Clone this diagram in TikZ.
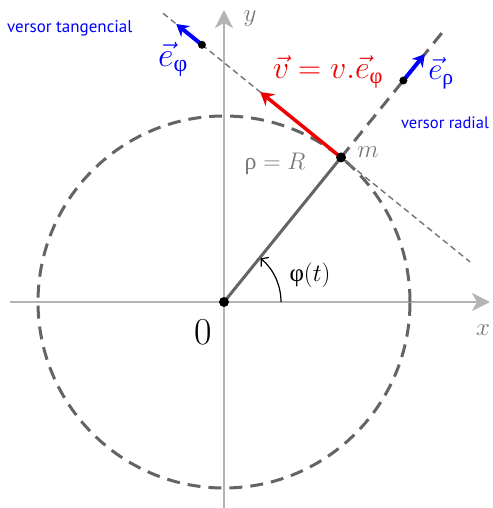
\RequirePackage{fix-cm}
\documentclass[tikz,border=0pt]{standalone}
\usepackage{amsmath}
\usepackage{fontspec}
\usepackage{tikz}
\usetikzlibrary{arrows.meta,calc}
\newfontfamily\grk{Liberation Serif}
\newfontfamily\labsans{PT Sans}
\newcommand{\gphi}{\text{\grk φ}}
\newcommand{\grho}{\text{\grk ρ}}
\newcommand{\fs}[1]{\fontsize{#1}{#1}\selectfont}
\definecolor{vblue}{RGB}{0,0,255}
\definecolor{vred}{RGB}{240,0,0}
\definecolor{axgray}{RGB}{180,180,180}
\definecolor{lngray}{RGB}{100,100,100}
\definecolor{txgray}{RGB}{120,120,120}
\tikzset{
  axis/.style={draw=axgray, line width=2.5pt, -{Stealth[length=18pt,width=18pt,inset=5pt]}},
  circdash/.style={draw=lngray, line width=3pt, dash pattern=on 13pt off 8pt},
  tangdash/.style={draw=black!55, line width=1.4pt, dash pattern=on 6pt off 4pt},
  radline/.style={draw=lngray, line width=3pt},
  dot/.style={circle, fill=black, inner sep=0pt, minimum size=#1},
  dot/.default=10pt,
  versor/.style={vblue, line width=4pt, -{Stealth[length=12pt,width=14pt]}},
  vel/.style={vred, line width=3.5pt, -{Stealth[length=13pt,width=15pt]}},
  lab/.style={inner sep=0pt, text=txgray},
}

\begin{document}
\begin{tikzpicture}[x=1pt,y=1pt]
\useasboundingbox (-224,-206) rectangle (268,302);
% points
\coordinate (O) at (0,0);
\coordinate (Xl) at (-214,0);
\coordinate (Xr) at (266,0);
\coordinate (Yb) at (0,-206);
\coordinate (Yt) at (0,292);
\coordinate (M) at (51:186);
\coordinate (Rend) at (51:349);
\coordinate (Ta) at ($(M)+(141:229)$);
\coordinate (Tb) at ($(M)+(-39:166)$);
\coordinate (Vtip) at ($(M)+(141:104)$);
\coordinate (Ephi) at ($(M)+(141:179)$);
\coordinate (Ephitip) at ($(M)+(141:212)$);
\coordinate (Erho) at (51:285);
\coordinate (Erhotip) at (51:319);
\coordinate (A0) at (57,0);
% axes and circle
\draw[axis] (Xl) -- (Xr);
\draw[axis] (Yb) -- (Yt);
\draw[circdash] (O) circle[radius=186];
\draw[circdash] (M) -- (Rend);
\draw[tangdash] (Ta) -- (Tb);
\draw[radline] (O) -- (M);
\draw[line width=1.2pt, -{Straight Barb[length=5pt,width=12pt]}] (A0) arc[start angle=0, end angle=50, radius=57];
% vectors
\draw[vel] (M) -- (Vtip);
\draw[versor] (Ephi) -- (Ephitip);
\draw[versor] (Erho) -- (Erhotip);
\node[dot] (o) at (O) {};
\node[dot] (m) at (M) {};
\node[dot=8pt] (ephi) at (Ephi) {};
\node[dot=8pt] (erho) at (Erho) {};
% labels
\node[lab, font=\fs{25}] (ylab) at (26,283) {$y$};
\node[lab, font=\fs{25}] (xlab) at (259,-28) {$x$};
\node[inner sep=0pt, font=\fs{38}] (zero) at (-21,-30) {0};
\node[lab, font=\fs{25}] (mlab) at (144,150) {$m$};
\node[lab, font=\fs{24}] (rho) at (51,138) {$\grho=R$};
\node[inner sep=0pt, font=\fs{25}] (phit) at (86,27) {$\gphi(t)$};
\node[inner sep=0pt, text=vred, font=\fs{32}] (vlab) at (104,230) {$\vec{v}=v.\vec{e}_{\gphi}$};
\node[inner sep=0pt, text=vblue, font=\fs{34}] (ephilab) at (-51,243) {$\vec{e}_{\gphi}$};
\node[inner sep=0pt, text=vblue, font=\fs{31}] (erholab) at (217,229) {$\vec{e}_{\grho}$};
\node[inner sep=0pt, anchor=base west, text=vblue, font=\labsans\fs{17}] (vt) at (-217,269) {versor tangencial};
\node[inner sep=0pt, anchor=base west, text=vblue, font=\labsans\fs{16.5}] (vr) at (177,173) {versor radial};
\end{tikzpicture}
\end{document}
